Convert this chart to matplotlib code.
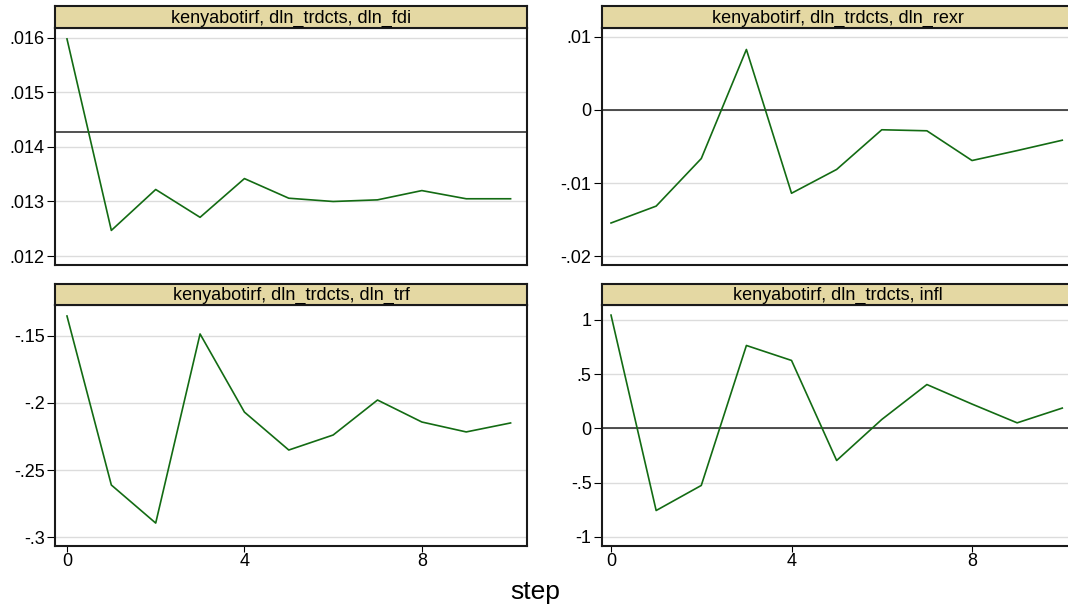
import numpy as np
import matplotlib
matplotlib.use("Agg")
import matplotlib.pyplot as plt

plt.rcParams['font.family'] = ['Liberation Sans', 'DejaVu Sans']

steps = [0, 1, 2, 3, 4, 5, 6, 7, 8, 9, 10]

titles = ["kenyabotirf, dln_trdcts, dln_fdi",
          "kenyabotirf, dln_trdcts, dln_rexr",
          "kenyabotirf, dln_trdcts, dln_trf",
          "kenyabotirf, dln_trdcts, infl"]

irf_fdi = [0.01598, 0.01247, 0.01322, 0.01271, 0.01342, 0.01306,
           0.01300, 0.01303, 0.01320, 0.01305, 0.01305]
irf_rexr = [-0.01547, -0.01316, -0.00665, 0.00828, -0.01140, -0.00814,
            -0.00271, -0.00285, -0.00692, -0.00556, -0.00414]
irf_trf = [-0.1351, -0.2612, -0.2896, -0.1485, -0.2068, -0.2351,
           -0.2239, -0.1978, -0.2142, -0.2216, -0.2149]
irf_infl = [1.045, -0.756, -0.525, 0.765, 0.627, -0.295,
            0.083, 0.405, 0.225, 0.052, 0.188]

yticks = [[0.012, 0.013, 0.014, 0.015, 0.016],
          [-0.02, -0.01, 0, 0.01],
          [-0.3, -0.25, -0.2, -0.15],
          [-1, -0.5, 0, 0.5, 1]]
ylabels = [[".012", ".013", ".014", ".015", ".016"],
           ["-.02", "-.01", "0", ".01"],
           ["-.3", "-.25", "-.2", "-.15"],
           ["-1", "-.5", "0", ".5", "1"]]
ylims = [(0.011836, 0.01618), (-0.02122, 0.01122), (-0.3067, -0.1269), (-1.083, 1.138)]
reflines = [0.014273, 0, None, 0]
xticks = [0, 4, 8]

series = [irf_fdi, irf_rexr, irf_trf, irf_infl]

W, H = 1068, 606
fig = plt.figure(figsize=(W / 100, H / 100), dpi=100)
fig.patch.set_facecolor("white")

# pixel boxes: (left, right, header_top, plot_top, plot_bottom)
boxes = [(55, 527, 6, 28, 265),
         (602, 1074, 6, 28, 265),
         (55, 527, 284, 305, 546),
         (602, 1074, 284, 305, 546)]
xlims = [(-0.27, 10.37), (-0.2, 10.26), (-0.27, 10.37), (-0.2, 10.26)]

green = "#136b13"
tan = "#e4d8a3"

for i, (l, r, ht, pt, pb) in enumerate(boxes):
    ax = fig.add_axes([l / W, 1 - pb / H, (r - l) / W, (pb - pt) / H])
    hx = fig.add_axes([l / W, 1 - pt / H, (r - l) / W, (pt - ht) / H])
    hx.set_facecolor(tan)
    hx.set_xticks([])
    hx.set_yticks([])
    for sp in hx.spines.values():
        sp.set_linewidth(1.5)
        sp.set_color("#1a1a1a")
    hx.text(0.5, 0.45, titles[i], ha="center", va="center", fontsize=13,
            transform=hx.transAxes)

    for yv in yticks[i]:
        ax.axhline(yv, color="#dcdcdc", lw=1.0, zorder=1)
    if reflines[i] is not None:
        ax.axhline(reflines[i], color="#222222", lw=1.1, zorder=2)
    ax.plot(steps, series[i], color=green, lw=1.2, zorder=3)

    ax.set_xlim(*xlims[i])
    ax.set_ylim(*ylims[i])
    ax.set_yticks(yticks[i])
    ax.set_yticklabels(ylabels[i])
    ax.tick_params(axis="y", direction="out", length=5.5, width=0.8,
                   labelsize=13, pad=2)
    if i >= 2:
        ax.set_xticks(xticks)
        ax.set_xticklabels([str(v) for v in xticks])
        ax.tick_params(axis="x", direction="out", length=4, width=0.8,
                       labelsize=13, pad=1)
    else:
        ax.set_xticks([])
    for sp in ax.spines.values():
        sp.set_linewidth(1.5)
        sp.set_color("#1a1a1a")

fig.text(535 / W, 1 - 592 / H, "step", ha="center", va="center", fontsize=19)

fig.savefig("out.png", dpi=100)
